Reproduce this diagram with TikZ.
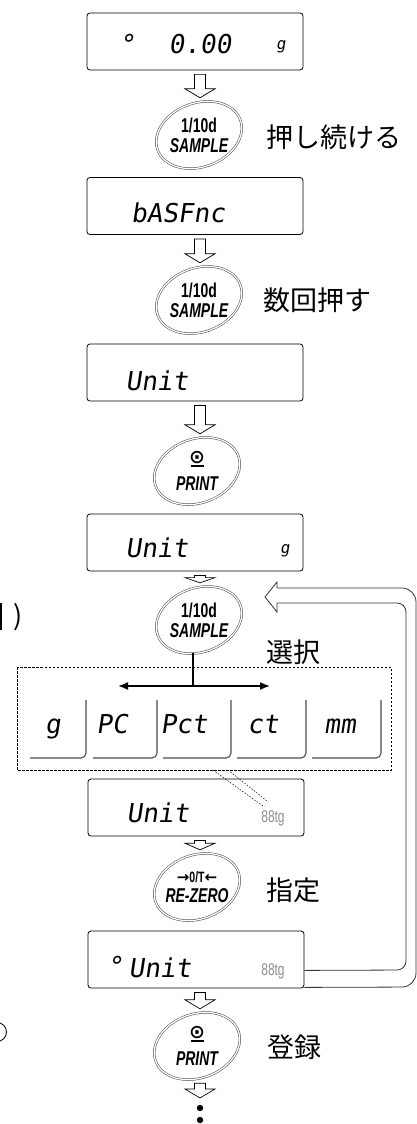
\documentclass[tikz,border=0pt]{standalone}
\usepackage{fontspec}
\usetikzlibrary{calc,shapes.geometric,arrows.meta}

\newfontfamily\jpfont{Noto Sans CJK JP}
\newfontfamily\segfont[FakeSlant=0.15]{DejaVu Sans Mono}
\newfontfamily\keyfont[FakeStretch=0.7]{Liberation Sans}
\newfontfamily\symfont{DejaVu Sans}

\tikzset{
  display/.style={draw,rounded corners=3pt,line width=0.8pt,minimum width=216pt,minimum height=57pt,inner sep=0pt},
  segtext/.style={anchor=base,inner sep=0pt,font=\segfont\fontsize{26}{26}\selectfont},
  smallseg/.style={anchor=base,inner sep=0pt,font=\segfont\fontsize{16}{16}\selectfont},
  unitind/.style={anchor=base,inner sep=0pt,text=black!45,font=\keyfont\fontsize{17}{17}\selectfont},
  keybtn/.style={ellipse,minimum width=84pt,minimum height=66pt,inner sep=0pt,align=center,font=\keyfont\bfseries\fontsize{20}{20}\selectfont},
  keyring/.style={draw=black!75,double=white,double distance=1.3pt,line width=0.5pt},
  blockarrow/.style={draw,line width=0.7pt,fill=white,line join=miter},
  jplabel/.style={anchor=west,inner sep=0pt,font=\jpfont\fontsize{27}{27}\selectfont},
  tabline/.style={draw=black!70,line width=1.1pt,rounded corners=5pt},
  selbox/.style={dash pattern=on 2.5pt off 1.5pt,line width=0.6pt},
  dotlink/.style={dash pattern=on 1.5pt off 1.5pt,line width=0.5pt},
  selarrow/.style={->,line width=1.6pt},
  looparrow/.style={line width=0.8pt,draw=black!80}
}

% hollow arrow straight down, between two anchors
\newcommand{\blockdown}[2]{%
  \draw[blockarrow] let \p1=(#1 -| col), \p2=(#2 -| col),
      \n1={min(9pt,0.7*(\y1-\y2-8pt))} in
    (\x1-5.5pt,\y1-4pt) -- (\x1+5.5pt,\y1-4pt) -- (\x1+5.5pt,\y2+4pt+\n1*1pt)
    -- (\x1+15pt,\y2+4pt+\n1*1pt) -- (\x1,\y2+4pt) -- (\x1-15pt,\y2+4pt+\n1*1pt)
    -- (\x1-5.5pt,\y2+4pt+\n1*1pt) -- cycle;}

% print key face
\newcommand{\printkey}{{\symfont\bfseries\fontsize{19}{19}\selectfont ⊙}\\[-17pt]\rule{13pt}{1.8pt}\\[4pt]\itshape PRINT}

\begin{document}
\begin{tikzpicture}[x=1pt,y=-1pt,>={Latex[length=10pt,width=8pt]}]
\useasboundingbox (0,0) rectangle (417,1124);

% column of the block arrows
\coordinate (col) at (200,0);

% ============================================
% DISPLAYS
% ============================================
        \node[display] (d1) at (195,41.5) {};
        \node[display] (d2) at (195,206) {};
        \node[display] (d3) at (195,372.5) {};
        \node[display] (d4) at (195,542.5) {};
        \node[display] (d5) at (196,807.5) {};
        \node[display] (d6) at (196,959.5) {};
        % display texts
        \node[segtext] (d1deg) at (127,53) {°};
        \node[segtext] (d1val) at (200,53) {0.00};
        \node[smallseg] (d1unit) at (281,49) {g};
        \node[segtext] (d2txt) at (178,222) {bASFnc};
        \node[segtext] (d3txt) at (157,390) {Unit};
        \node[segtext] (d4txt) at (157,557) {Unit};
        \node[smallseg] (d4unit) at (285,553) {g};
        \node[segtext] (d5txt) at (158,822) {Unit};
        \node[unitind] (i5) at (273,822) {88tg};
        \node[segtext] (d6deg) at (115,975) {°};
        \node[segtext] (d6txt) at (160,977) {Unit};
        \node[unitind] (i6) at (273,975) {88tg};

% ============================================
% KEYS
% ============================================
        \node[keybtn] (b1) at (199,135) {1/10d\\\itshape SAMPLE};
        \node[keybtn] (b2) at (199,300) {1/10d\\\itshape SAMPLE};
        \node[keybtn] (b3) at (197,471) {\printkey};
        \node[keybtn] (b4) at (199,620) {1/10d\\\itshape SAMPLE};
        \node[keybtn] (b5) at (197,887) {{\fontsize{15}{15}\selectfont{\symfont\bfseries →}0/T{\symfont\bfseries ←}}\\\itshape RE-ZERO};
        \node[keybtn] (b6) at (197,1046) {\printkey};
        \foreach \k in {b1,b2,b3,b4,b5,b6}
          \draw[keyring,rotate=20] (\k) ellipse [x radius=44, y radius=32];

% ============================================
% HOLLOW ARROWS
% ============================================
        \coordinate (more) at (200,1102);
        \blockdown{d1.south}{b1.north}
        \blockdown{d2.south}{b2.north}
        \blockdown{d3.south}{b3.north}
        \blockdown{d4.south}{b4.north}
        \blockdown{d5.south}{b5.north}
        \blockdown{d6.south}{b6.north}
        \blockdown{b6.south}{more}
        \fill (200,1108) circle (3.2) (200,1120) circle (3.2);

% ============================================
% UNIT SELECTION
% ============================================
        \draw[selbox] (17,667) rectangle (391,770);
        \coordinate (split) at (193,686);
        \coordinate (selL) at (118,686);
        \coordinate (selR) at (270,686);
        \draw[line width=1.6pt] (b4.south -| split) -- (split);
        \draw[selarrow] (split) -- (selL);
        \draw[selarrow] (split) -- (selR);
        \foreach \xl/\xr/\lab/\lx in {30/86/g/53, 93/157/PC/112, 163/231/Pct/184, 237/306/ct/263, 312/381/mm/340}{
          \draw[tabline] (\xl,758) -- (\xr,758) -- (\xr,700);
          \node[segtext] (tab\lab) at (\lx,733) {\lab};
        }
        % link to the unit mark
        \coordinate (selA) at (213,770);
        \coordinate (selB) at (228,770);
        \draw[dotlink] (selA) -- ($(i5.north west)+(3,-3)$);
        \draw[dotlink] (selB) -- ($(i5.north west)+(7,-8)$);

% ============================================
% LOOP BACK
% ============================================
        \coordinate (looptip) at (265,597);
        \draw[looparrow,rounded corners=14pt] ($(d6.south east)+(0,-1)$) -- (416,987) -- (416,588) -- (277,588);
        \draw[looparrow] (277,588) -- (277,582) -- (looptip) -- (277,612) -- (277,603);
        \draw[looparrow,rounded corners=9pt] (277,603) -- (406,603) -- (406,970) -- ($(d6.south east)+(0,-18)$);

% ============================================
% LABELS
% ============================================
        \node[jplabel] (lab1) at (266,137) {押し続ける};
        \node[jplabel] (lab2) at (263,300) {数回押す};
        \node[jplabel] (lab3) at (266,652) {選択};
        \node[jplabel] (lab4) at (266,890) {指定};
        \node[jplabel] (lab5) at (267,1047) {登録};
        % cut-off marks at the left edge
        \draw[line width=1.4pt] (1,603) -- (1,630);
        \node[font=\jpfont\fontsize{27}{27}\selectfont,inner sep=0pt] (cut1) at (18,617) {)};
        \draw[line width=0.8pt] (-3,1032) circle (9.5);
\end{tikzpicture}
\end{document}
